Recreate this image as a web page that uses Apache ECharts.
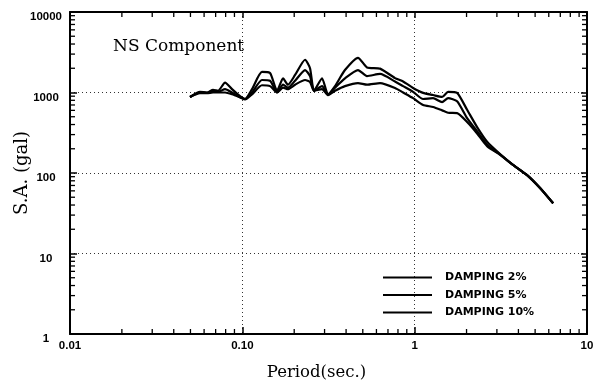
<!DOCTYPE html>
<html><head><meta charset="utf-8">
<script src="https://cdn.jsdelivr.net/npm/echarts@6/dist/echarts.min.js"></script>
<style>html,body{margin:0;padding:0;background:#fff}#c{width:607px;height:380px}</style>
</head><body><div id="c"></div>
<script>
// Period (sec.)
const periods = [0.0497,0.0568,0.0624,0.0676,0.0723,0.0794,0.0871,0.097,0.1037,0.1138,
  0.130,0.1448,0.159,0.1723,0.184,0.2023,0.2312,0.247,0.2606,0.290,
  0.314,0.345,0.394,0.469,0.529,0.630,0.769,0.857,0.979,1.119,
  1.279,1.442,1.563,1.763,2.015,2.303,2.632,3.13,3.72,4.49,5.34,6.36];
// Spectral acceleration (gal)
const damping2 = [880,1020,1000,1080,1050,1330,1100,900,830,1100,
  1800,1750,1050,1500,1250,1650,2550,2000,1050,1500,
  950,1200,1900,2700,2050,1980,1510,1370,1140,990,
  930,880,1020,990,610,372,245,172,126,94,65,42];
const damping5 = [880,1000,990,1050,1020,1100,1000,880,830,1000,
  1430,1400,1000,1250,1150,1400,1900,1600,1050,1200,
  930,1150,1500,1900,1600,1700,1370,1200,1020,830,
  850,760,850,780,480,330,225,170,126,94,65,42];
const damping10 = [880,980,980,1000,1000,1000,950,870,820,950,
  1230,1200,1000,1150,1100,1250,1430,1350,1050,1100,
  930,1050,1200,1310,1250,1310,1140,1000,850,700,
  660,600,560,555,430,310,215,168,126,94,65,42];
const seriesNames = ['DAMPING 2%','DAMPING 5%','DAMPING 10%'];
const xTickLabels = ['0.01','0.10','1','10'];
const yTickLabels = ['1','10','100','1000','10000'];
const chartTitle = 'NS Component';

const pairs = arr => periods.map((p,i)=>[p,arr[i]]);
const minorX = []; for (let e=-2;e<1;e++) for (let k=2;k<10;k++) minorX.push(+(k*Math.pow(10,e)).toPrecision(3));
const minorY = []; for (let e=0;e<4;e++) for (let k=2;k<10;k++) minorY.push(+(k*Math.pow(10,e)).toPrecision(3));

const serif = 'DejaVu Serif';
const tickFont = {color:'#000', fontFamily:'Liberation Sans', fontWeight:'bold', fontSize:11.5};
const lineSeries = [damping2,damping5,damping10].map((d,i)=>({
  name: seriesNames[i], type:'line', data: pairs(d), showSymbol:false, symbol:'none',
  smooth:0.2, lineStyle:{color:'#000', width:2.2}, itemStyle:{color:'#000'}, z:3
}));
const idx = v => Math.round(Math.log10(v));
const chart = echarts.init(document.getElementById('c'), null, {renderer:'canvas'});
chart.setOption({
  animation:false,
  backgroundColor:'#fff',
  grid:{left:70, right:20, top:12, bottom:46, containLabel:false, outerBoundsMode:'none'},
  title:{text:chartTitle, left:108, top:33, textStyle:{fontFamily:serif, fontWeight:'normal', fontSize:17, color:'#000'}},
  legend:{
    data: seriesNames, orient:'vertical', left:383, top:272, padding:0, itemWidth:49, itemHeight:14, itemGap:6.5,
    icon:'path://M0,6L49,6L49,8L0,8Z',
    textStyle:{fontFamily:'DejaVu Sans', fontWeight:'bold', fontSize:11, color:'#000', padding:[0,0,0,8]},
    itemStyle:{color:'#000'}
  },
  xAxis:[
    {type:'log', logBase:10, min:0.01, max:10, position:'bottom',
     axisLine:{lineStyle:{color:'#000', width:2}},
     axisTick:{inside:true, length:7, lineStyle:{color:'#000', width:1.5}},
     axisLabel:Object.assign({margin:6, formatter:v=>xTickLabels[idx(v)+2]}, tickFont),
     splitLine:{show:true, lineStyle:{type:[1,3], color:'#333', width:1}},
     name:'Period(sec.)', nameLocation:'middle', nameGap:30, nameMoveOverlap:false,
     nameTextStyle:{fontFamily:serif, fontSize:16.5, color:'#000', padding:[0,24,0,0]}},
    {type:'log', logBase:10, min:0.01, max:10, position:'top',
     axisLine:{lineStyle:{color:'#000', width:2}},
     axisTick:{inside:true, length:6, lineStyle:{color:'#000', width:1.5}},
     axisLabel:{show:false}, splitLine:{show:false}}
  ],
  yAxis:[
    {type:'log', logBase:10, min:1, max:10000, position:'left',
     axisLine:{lineStyle:{color:'#000', width:2}},
     axisTick:{inside:true, length:7, lineStyle:{color:'#000', width:1.5}},
     axisLabel:Object.assign({margin:24, align:'center', verticalAlign:'top', lineHeight:10, formatter:v=>yTickLabels[idx(v)]}, tickFont),
     splitLine:{show:true, lineStyle:{type:[1,3], color:'#333', width:1}},
     name:'S.A. (gal)', nameLocation:'middle', nameGap:39, nameMoveOverlap:false,
     nameTextStyle:{fontFamily:serif, fontSize:18, color:'#000'}},
    {type:'log', logBase:10, min:1, max:10000, position:'right',
     axisLine:{lineStyle:{color:'#000', width:2}},
     axisTick:{inside:true, length:6, lineStyle:{color:'#000', width:1.5}},
     axisLabel:{show:false}, splitLine:{show:false}}
  ],
  series: lineSeries
});
// minor ticks placed through the axes' own scales
const L = 5, st = {stroke:'#000', lineWidth:1.3};
const g = [];
const px = p => chart.convertToPixel({xAxisIndex:0, yAxisIndex:0}, p);
minorX.forEach(v=>{
  const a = px([v,1]), b = px([v,10000]);
  g.push({type:'line', silent:true, z:10, shape:{x1:a[0], y1:a[1], x2:a[0], y2:a[1]-L}, style:st});
  g.push({type:'line', silent:true, z:10, shape:{x1:b[0], y1:b[1], x2:b[0], y2:b[1]+L}, style:st});
});
minorY.forEach(v=>{
  const a = px([0.01,v]), b = px([10,v]);
  g.push({type:'line', silent:true, z:10, shape:{x1:a[0], y1:a[1], x2:a[0]+L, y2:a[1]}, style:st});
  g.push({type:'line', silent:true, z:10, shape:{x1:b[0], y1:b[1], x2:b[0]-L, y2:b[1]}, style:st});
});
chart.setOption({graphic:g});
</script></body></html>
